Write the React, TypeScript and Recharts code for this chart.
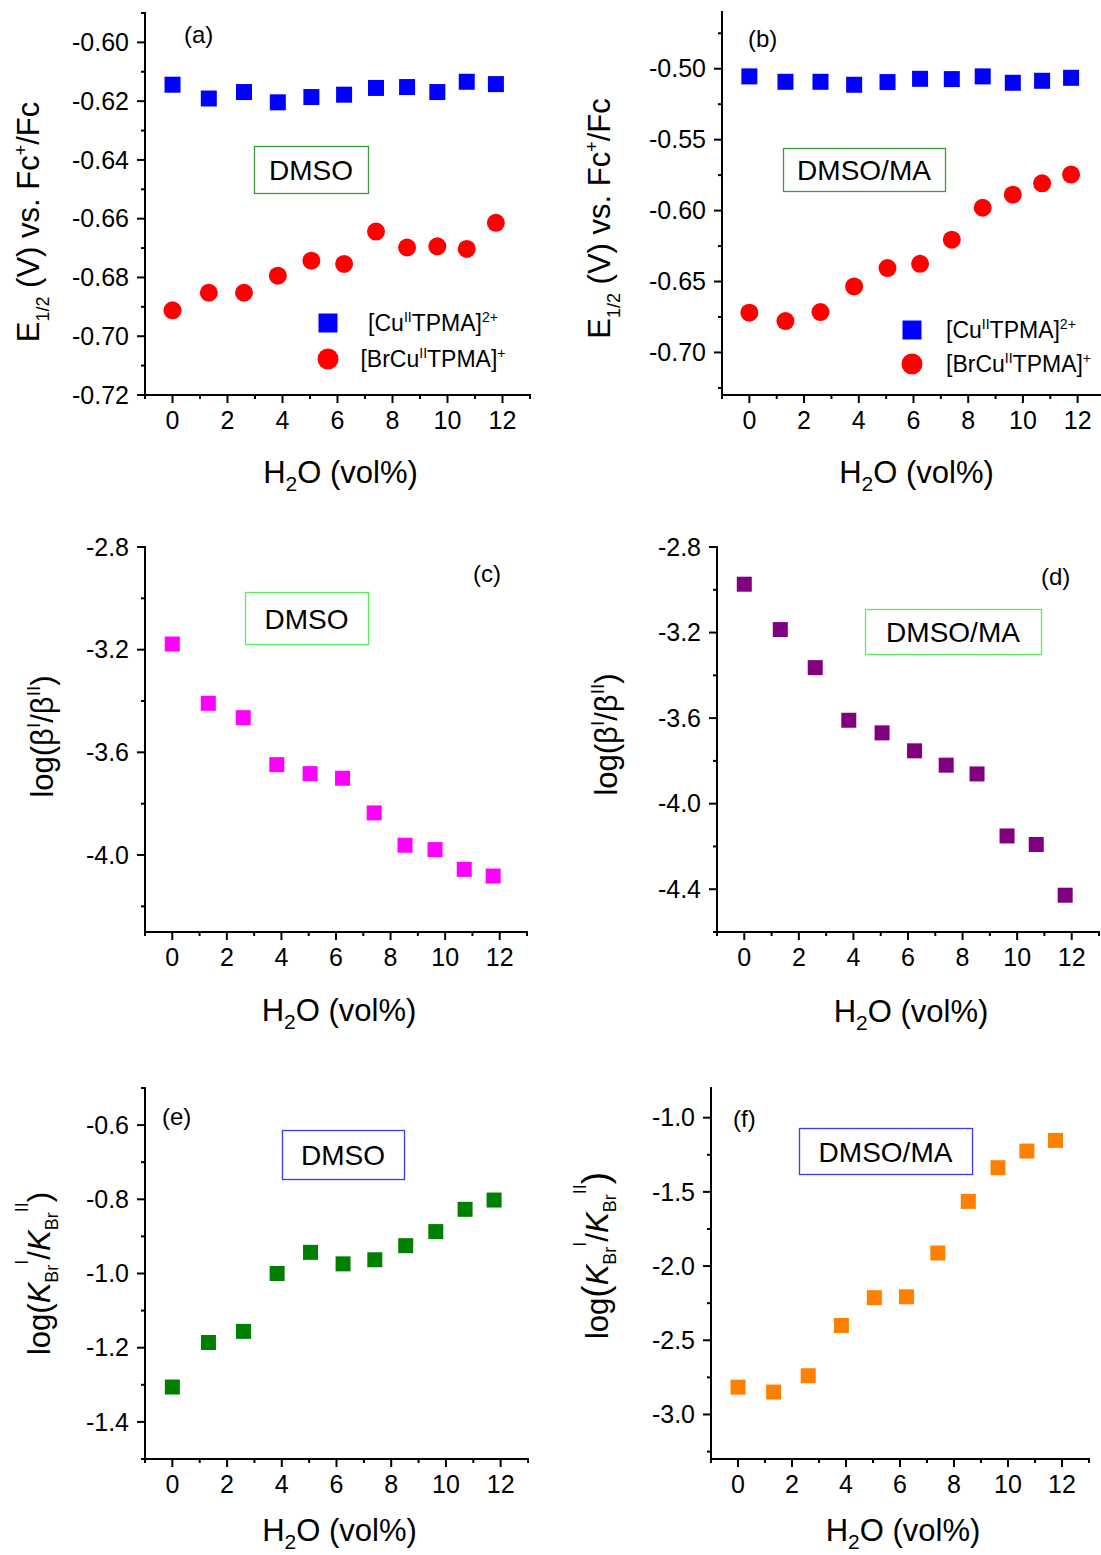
import React from "react";
import { ScatterChart, Scatter, XAxis, YAxis, Legend } from "recharts";

const FONT = '"Liberation Sans", Arial, Helvetica, sans-serif';

// H2O content (vol%), same for every panel
const waterVol = [0, 1.32, 2.6, 3.83, 5.05, 6.24, 7.4, 8.53, 9.63, 10.7, 11.76];

// (a) E1/2 vs Fc+/Fc in DMSO
const e12CuDmso = [-0.6144, -0.6191, -0.6169, -0.6204, -0.6186, -0.6178, -0.6155, -0.6152, -0.6169, -0.6134, -0.6142];
const e12BrCuDmso = [-0.6912, -0.6852, -0.6852, -0.6794, -0.6743, -0.6754, -0.6644, -0.6698, -0.6694, -0.6703, -0.6614];
// (b) E1/2 vs Fc+/Fc in DMSO/MA
const e12CuMa = [-0.5054, -0.5092, -0.5092, -0.5113, -0.5094, -0.5071, -0.5073, -0.5054, -0.5099, -0.5085, -0.5064];
const e12BrCuMa = [-0.672, -0.6779, -0.6715, -0.6535, -0.6405, -0.6375, -0.6205, -0.598, -0.5888, -0.5808, -0.5746];
// (c), (d) log(beta I / beta II)
const logBetaDmso = [-3.178, -3.409, -3.465, -3.648, -3.683, -3.701, -3.836, -3.962, -3.979, -4.056, -4.082];
const logBetaMa = [-2.974, -3.186, -3.364, -3.61, -3.669, -3.753, -3.82, -3.861, -4.151, -4.191, -4.428];
// (e), (f) log(K_Br I / K_Br II)
const logKDmso = [-1.306, -1.186, -1.156, -1.0, -0.943, -0.974, -0.963, -0.925, -0.887, -0.827, -0.802];
const logKMa = [-2.816, -2.849, -2.739, -2.4, -2.213, -2.207, -1.912, -1.564, -1.337, -1.225, -1.153];

const cuName = "[CuIITPMA]2+";
const brCuName = "[BrCuIITPMA]+";
const legendOrder = [cuName, brCuName];

// ticks
const xMajor = [0, 2, 4, 6, 8, 10, 12];
const xMinor = [-1, 1, 3, 5, 7, 9, 11, 13];
const yMajorA = [-0.72, -0.7, -0.68, -0.66, -0.64, -0.62, -0.6];
const yMinorA = [-0.71, -0.69, -0.67, -0.65, -0.63, -0.61, -0.59];
const yMajorB = [-0.7, -0.65, -0.6, -0.55, -0.5];
const yMinorB = [-0.725, -0.675, -0.625, -0.575, -0.525, -0.475];
const yMajorC = [-4.0, -3.6, -3.2, -2.8];
const yMinorC = [-4.2, -3.8, -3.4, -3.0];
const yMajorD = [-4.4, -4.0, -3.6, -3.2, -2.8];
const yMinorD = [-4.6, -4.2, -3.8, -3.4, -3.0];
const yMajorE = [-1.4, -1.2, -1.0, -0.8, -0.6];
const yMinorE = [-1.5, -1.3, -1.1, -0.9, -0.7, -0.5];
const yMajorF = [-3.0, -2.5, -2.0, -1.5, -1.0];
const yMinorF = [-3.25, -2.75, -2.25, -1.75, -1.25];

const toPoints = (ys: number[]) => waterVol.map((x, i) => ({ x, y: ys[i] }));
const sorted = (a: number[], b: number[]) => [...a, ...b].sort((p, q) => p - q);

const YW = 140; // left axis area
const MT = 24;
const MR = 10;
const XH = 112; // bottom axis area
const TICK_FONT = 25;
const TITLE_FONT = 31;

const frameLine = { stroke: "#000", strokeWidth: 2, strokeLinecap: "square" as const };

const sup = (t: string, size = 14, top = -9) => (
  <span style={{ fontSize: size, position: "relative", top }}>{t}</span>
);

const speciesLabel: Record<string, React.ReactNode> = {
  [cuName]: (
    <>
      [Cu{sup("II")}TPMA]{sup("2+")}
    </>
  ),
  [brCuName]: (
    <>
      [BrCu{sup("II")}TPMA]{sup("+")}
    </>
  ),
};

const e12Title = (
  <>
    E<tspan dy={10} fontSize={18}>1/2</tspan>
    <tspan dy={-10}> (V) vs. Fc</tspan>
    <tspan dy={-12} fontSize={18}>+</tspan>
    <tspan dy={12}>/Fc</tspan>
  </>
);

const betaTitle = (
  <>
    log(β<tspan dy={-13} fontSize={19}>I</tspan>
    <tspan dy={13}>/β</tspan>
    <tspan dy={-13} fontSize={19}>II</tspan>
    <tspan dy={13}>)</tspan>
  </>
);

const kTitle = (paren: number) => (
  <>
    log<tspan fontSize={paren}>(</tspan>
    <tspan fontStyle="italic">K</tspan>
    <tspan dy={8} fontSize={18}>Br</tspan>
    <tspan dy={-30} fontSize={18}>I</tspan>
    <tspan dy={22}>/</tspan>
    <tspan fontStyle="italic">K</tspan>
    <tspan dy={8} fontSize={18}>Br</tspan>
    <tspan dy={-30} fontSize={18}>II</tspan>
    <tspan dy={22} fontSize={paren}>)</tspan>
  </>
);

function XTick(props: any) {
  const { x, y, payload } = props;
  const isMajor = xMajor.includes(payload.value);
  return (
    <g>
      <line x1={x} x2={x} y1={y} y2={y + (isMajor ? 8 : 4)} stroke="#000" strokeWidth={2} />
      {isMajor && (
        <text x={x} y={y + 16} dy="0.71em" textAnchor="middle" fontSize={TICK_FONT} fontFamily={FONT} fill="#000">
          {payload.value}
        </text>
      )}
    </g>
  );
}

function YTick(props: any) {
  const { x, y, payload, major, digits } = props;
  const isMajor = major.includes(payload.value);
  return (
    <g>
      <line x1={x} x2={x - (isMajor ? 8 : 4)} y1={y} y2={y} stroke="#000" strokeWidth={2} />
      {isMajor && (
        <text x={x - 16} y={y} dy="0.35em" textAnchor="end" fontSize={TICK_FONT} fontFamily={FONT} fill="#000">
          {payload.value.toFixed(digits)}
        </text>
      )}
    </g>
  );
}

function XTitle(props: any) {
  const { viewBox, lift } = props;
  const { x, y, width } = viewBox;
  return (
    <text x={x + width / 2 + 3} y={y + lift} textAnchor="middle" fontSize={TITLE_FONT} fontFamily={FONT} fill="#000">
      H<tspan dy={8} fontSize={21}>2</tspan>
      <tspan dy={-8}>O (vol%)</tspan>
    </text>
  );
}

function YTitle(props: any) {
  const { viewBox, dist, shift, title } = props;
  const { x, y, width, height } = viewBox;
  const cx = x + width - dist;
  const cy = y + height / 2 + shift;
  return (
    <text
      transform={`rotate(-90 ${cx} ${cy})`}
      x={cx}
      y={cy}
      textAnchor="middle"
      fontSize={TITLE_FONT}
      fontFamily={FONT}
      fill="#000"
    >
      {title}
    </text>
  );
}

function SpeciesLegend(props: any) {
  const { payload, rowH, gap, textW, align } = props;
  const items = [...(payload || [])].sort(
    (a: any, b: any) => legendOrder.indexOf(a.value) - legendOrder.indexOf(b.value)
  );
  return (
    <div style={{ fontFamily: FONT, fontSize: 23, color: "#000" }}>
      {items.map((item: any) => (
        <div key={item.value} style={{ display: "flex", alignItems: "center", height: rowH }}>
          <svg width={24} height={24} style={{ flex: "none" }}>
            {item.type === "circle" ? (
              <circle cx={12} cy={12} r={10.5} fill={item.color} />
            ) : (
              <rect x={2.5} y={2.5} width={19} height={19} fill={item.color} />
            )}
          </svg>
          <div style={{ width: textW, marginLeft: gap, textAlign: align, whiteSpace: "nowrap" }}>
            {speciesLabel[item.value]}
          </div>
        </div>
      ))}
    </div>
  );
}

type Series = { name: string; data: number[]; color: string; shape: "square" | "circle"; size: number };

type PanelCfg = {
  id: string;
  box: [number, number, number, number];
  yDomain: [number, number];
  yMajor: number[];
  yMinor: number[];
  digits: number;
  series: Series[];
  yTitle: React.ReactNode;
  yTitleDist: number;
  yTitleShift: number;
  xTitleLift: number;
  legend?: { left: number; top: number; rowH: number; gap: number; textW: number; align: "left" | "center" };
};

const panels: PanelCfg[] = [
  {
    id: "a",
    box: [145, 13, 530, 395],
    yDomain: [-0.72, -0.59],
    yMajor: yMajorA,
    yMinor: yMinorA,
    digits: 2,
    series: [
      { name: cuName, data: e12CuDmso, color: "#0000ff", shape: "square", size: 16 },
      { name: brCuName, data: e12BrCuDmso, color: "#ff0000", shape: "circle", size: 18 },
    ],
    yTitle: e12Title,
    yTitleDist: 106,
    yTitleShift: 18,
    xTitleLift: 88,
    legend: { left: 316, top: 305, rowH: 36, gap: 5, textW: 176, align: "center" },
  },
  {
    id: "b",
    box: [722, 12, 1105, 395],
    yDomain: [-0.73, -0.46],
    yMajor: yMajorB,
    yMinor: yMinorB,
    digits: 2,
    series: [
      { name: cuName, data: e12CuMa, color: "#0000ff", shape: "square", size: 16 },
      { name: brCuName, data: e12BrCuMa, color: "#ff0000", shape: "circle", size: 18 },
    ],
    yTitle: e12Title,
    yTitleDist: 112,
    yTitleShift: 15,
    xTitleLift: 88,
    legend: { left: 900, top: 313, rowH: 34, gap: 22, textW: 160, align: "left" },
  },
  {
    id: "c",
    box: [145, 547, 527, 932],
    yDomain: [-4.3, -2.8],
    yMajor: yMajorC,
    yMinor: yMinorC,
    digits: 1,
    series: [{ name: "DMSO", data: logBetaDmso, color: "#ff00ff", shape: "square", size: 15 }],
    yTitle: betaTitle,
    yTitleDist: 92,
    yTitleShift: -3,
    xTitleLift: 89,
  },
  {
    id: "d",
    box: [717, 547, 1099, 932],
    yDomain: [-4.6, -2.8],
    yMajor: yMajorD,
    yMinor: yMinorD,
    digits: 1,
    series: [{ name: "DMSO/MA", data: logBetaMa, color: "#800080", shape: "square", size: 15 }],
    yTitle: betaTitle,
    yTitleDist: 100,
    yTitleShift: -5,
    xTitleLift: 90,
  },
  {
    id: "e",
    box: [145, 1088, 528, 1459],
    yDomain: [-1.5, -0.5],
    yMajor: yMajorE,
    yMinor: yMinorE,
    digits: 1,
    series: [{ name: "DMSO", data: logKDmso, color: "#008000", shape: "square", size: 15 }],
    yTitle: kTitle(31),
    yTitleDist: 95,
    yTitleShift: 0,
    xTitleLift: 82,
  },
  {
    id: "f",
    box: [711, 1088, 1089, 1459],
    yDomain: [-3.3, -0.8],
    yMajor: yMajorF,
    yMinor: yMinorF,
    digits: 1,
    series: [{ name: "DMSO/MA", data: logKMa, color: "#ff8000", shape: "square", size: 15 }],
    yTitle: kTitle(37),
    yTitleDist: 103,
    yTitleShift: -18,
    xTitleLift: 82,
  },
];

// panel letters: text, x, baseline
const letters: [string, number, number][] = [
  ["(a)", 184, 43],
  ["(b)", 748, 47],
  ["(c)", 473, 582],
  ["(d)", 1041, 585],
  ["(e)", 162, 1125],
  ["(f)", 733, 1127],
];

// solvent boxes: text, left, top, width, height, border
const solventBoxes: [string, number, number, number, number, string][] = [
  ["DMSO", 254, 146, 114, 47, "#3c9c3c"],
  ["DMSO/MA", 783, 148, 162, 43, "#3c9c3c"],
  ["DMSO", 245, 592, 123, 52, "#5cec5c"],
  ["DMSO/MA", 865, 609, 176, 45, "#5cec5c"],
  ["DMSO", 282, 1130, 122, 49, "#3a3aff"],
  ["DMSO/MA", 799, 1128, 173, 46, "#3a3aff"],
];

function Panel({ cfg }: { cfg: PanelCfg }) {
  const [x0, y0, x1, y1] = cfg.box;
  const left = x0 - YW;
  const top = y0 - MT;
  const w = x1 - x0 + YW + MR;
  const h = y1 - y0 + MT + XH;
  return (
    <div style={{ position: "absolute", left, top, width: w, height: h }}>
      <ScatterChart width={w} height={h} margin={{ top: MT, right: MR, bottom: 0, left: 0 }}>
        <XAxis
          xAxisId="top"
          orientation="top"
          type="number"
          domain={[-1, 13]}
          height={0}
          tick={false}
          tickLine={false}
          axisLine={frameLine}
          allowDataOverflow
        />
        <YAxis
          yAxisId="right"
          orientation="right"
          type="number"
          domain={cfg.yDomain}
          width={0}
          tick={false}
          tickLine={false}
          axisLine={frameLine}
          allowDataOverflow
        />
        <XAxis
          type="number"
          dataKey="x"
          domain={[-1, 13]}
          ticks={sorted(xMinor, xMajor)}
          interval={0}
          tickSize={0}
          tickMargin={0}
          tickLine={false}
          height={XH}
          axisLine={frameLine}
          tick={(t: any) => <XTick {...t} />}
          label={<XTitle lift={cfg.xTitleLift} />}
          allowDataOverflow
        />
        <YAxis
          type="number"
          dataKey="y"
          domain={cfg.yDomain}
          ticks={sorted(cfg.yMinor, cfg.yMajor)}
          interval={0}
          tickSize={0}
          tickMargin={0}
          tickLine={false}
          width={YW}
          axisLine={frameLine}
          tick={(t: any) => <YTick {...t} major={cfg.yMajor} digits={cfg.digits} />}
          label={<YTitle dist={cfg.yTitleDist} shift={cfg.yTitleShift} title={cfg.yTitle} />}
          allowDataOverflow
        />
        {cfg.series.map((s) => (
          <Scatter
            key={s.name}
            name={s.name}
            data={toPoints(s.data)}
            fill={s.color}
            legendType={s.shape}
            isAnimationActive={false}
            shape={(p: any) =>
              s.shape === "circle" ? (
                <circle cx={p.cx} cy={p.cy} r={s.size / 2} fill={s.color} />
              ) : (
                <rect x={p.cx - s.size / 2} y={p.cy - s.size / 2} width={s.size} height={s.size} fill={s.color} />
              )
            }
          />
        ))}
        {cfg.legend && (
          <Legend
            layout="vertical"
            align="center"
            verticalAlign="middle"
            wrapperStyle={{ left: cfg.legend.left - left, top: cfg.legend.top - top }}
            content={(lp: any) => (
              <SpeciesLegend
                payload={lp.payload}
                rowH={cfg.legend!.rowH}
                gap={cfg.legend!.gap}
                textW={cfg.legend!.textW}
                align={cfg.legend!.align}
              />
            )}
          />
        )}
      </ScatterChart>
    </div>
  );
}

export default function App() {
  return (
    <div
      style={{
        position: "absolute",
        left: 0,
        top: 0,
        width: 1101,
        height: 1555,
        overflow: "hidden",
        background: "#fff",
        fontFamily: FONT,
      }}
    >
      {panels.map((p) => (
        <Panel key={p.id} cfg={p} />
      ))}
      <svg
        width={1101}
        height={1555}
        style={{ position: "absolute", left: 0, top: 0, pointerEvents: "none" }}
      >
        {letters.map(([t, x, y]) => (
          <text key={t} x={x} y={y} fontSize={24} fontFamily={FONT} fill="#000">
            {t}
          </text>
        ))}
        {solventBoxes.map(([t, x, y, w, h, c], i) => (
          <g key={i}>
            <rect x={x + 0.5} y={y + 0.5} width={w} height={h} fill="#fff" stroke={c} strokeWidth={1.3} />
            <text
              x={x + w / 2}
              y={y + h / 2 + 1}
              dy="0.35em"
              textAnchor="middle"
              fontSize={28}
              fontFamily={FONT}
              fill="#000"
            >
              {t}
            </text>
          </g>
        ))}
      </svg>
    </div>
  );
}
